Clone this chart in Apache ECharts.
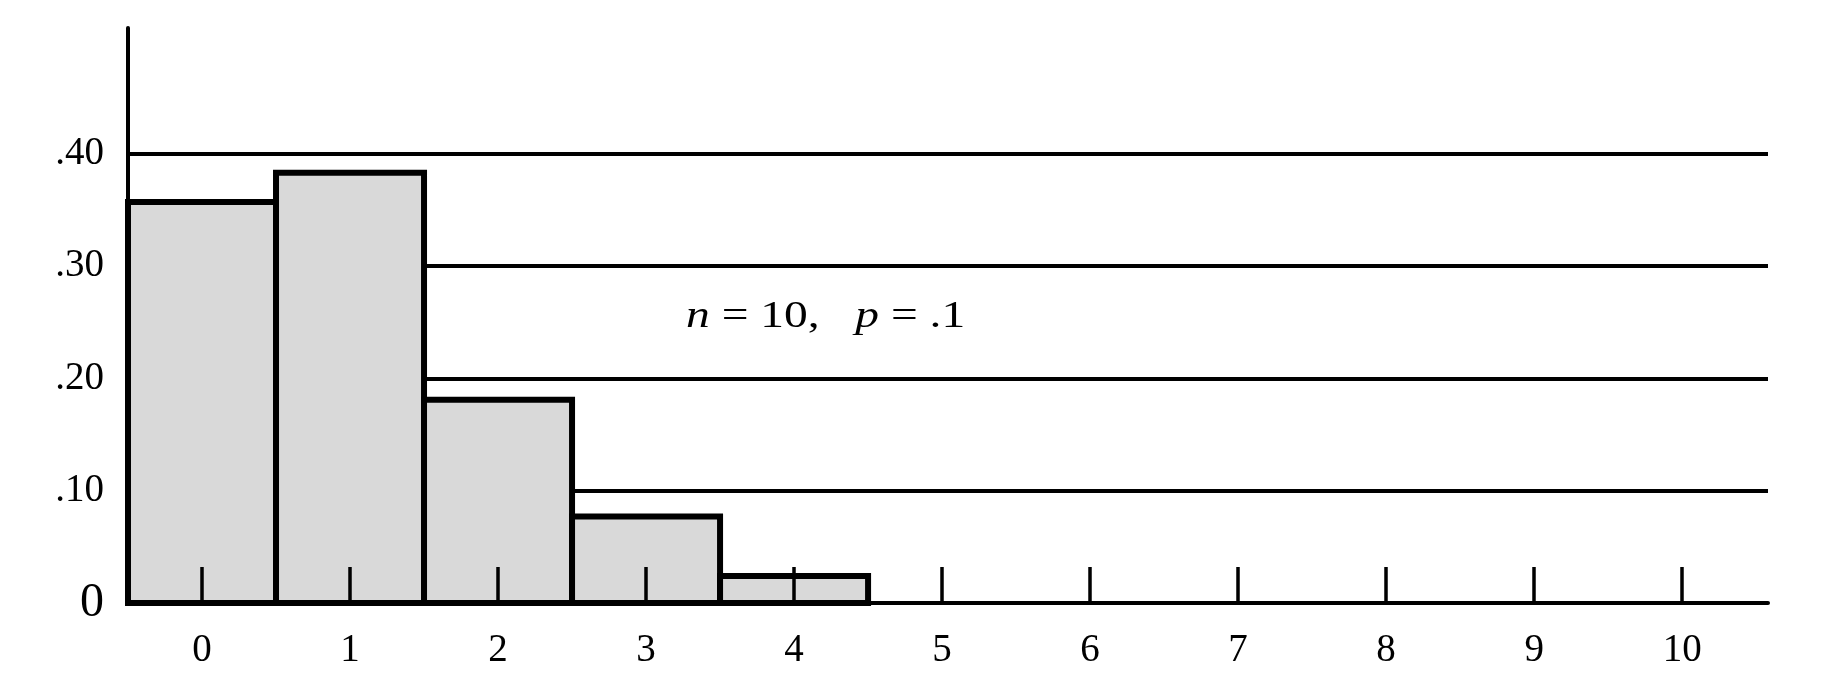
<!DOCTYPE html>
<html>
<head>
<meta charset="utf-8">
<script src="https://cdn.jsdelivr.net/npm/echarts@6/dist/echarts.min.js"></script>
<style>
  html, body { margin: 0; padding: 0; background: #fff; }
  #chart { width: 1842px; height: 696px; }
</style>
</head>
<body>
<div id="chart"></div>
<script>
// Number of successes k (x categories)
const categories = [0, 1, 2, 3, 4, 5, 6, 7, 8, 9, 10];
// Probability (k = 5..10 show no visible bar)
const probabilities = [0.357, 0.383, 0.181, 0.077, 0.024, 0, 0, 0, 0, 0, 0];
// Tick values and labels
const xTickValues = [0, 1, 2, 3, 4, 5, 6, 7, 8, 9, 10];
const xTickLabels = ['0', '1', '2', '3', '4', '5', '6', '7', '8', '9', '10'];
const yTickValues = [0, 0.1, 0.2, 0.3, 0.4];
const yTickLabels = ['0', '.10', '.20', '.30', '.40'];
const annotation = '{i|n} = 10,   {i|p} = .1';

const FONT = '"Liberation Serif", "Times New Roman", serif';

const chart = echarts.init(document.getElementById('chart'), null, { renderer: 'canvas' });

chart.setOption({
  backgroundColor: '#ffffff',
  animation: false,
  grid: { left: 128, right: 74, top: 28, bottom: 93, containLabel: false },
  xAxis: {
    type: 'value',
    min: -0.5,
    max: 10.58,
    z: 10,
    axisLine: { show: true, onZero: false, lineStyle: { color: '#000', width: 4 } },
    axisTick: {
      show: true, inside: true, length: 36,
      customValues: xTickValues,
      lineStyle: { color: '#000', width: 3.5 }
    },
    axisLabel: {
      show: true,
      customValues: xTickValues,
      margin: 28,
      color: '#000',
      fontFamily: FONT,
      fontSize: 39,
      formatter: function (v) { return xTickLabels[xTickValues.indexOf(Math.round(v))]; }
    },
    splitLine: { show: false }
  },
  yAxis: {
    type: 'value',
    min: 0,
    max: 0.512,
    axisLine: { show: true, onZero: false, lineStyle: { color: '#000', width: 4 } },
    axisTick: { show: false, customValues: yTickValues },
    axisLabel: {
      show: true,
      customValues: yTickValues,
      margin: 24,
      color: '#000',
      fontFamily: FONT,
      fontSize: 39,
      formatter: function (v) {
        const i = Math.round(v * 10);
        return i === 0 ? '{big|' + yTickLabels[0] + '}' : yTickLabels[i];
      },
      rich: { big: { fontFamily: FONT, fontSize: 48, color: '#000' } }
    },
    splitLine: { show: true, lineStyle: { color: '#000', width: 4 } }
  },
  series: [{
    type: 'custom',
    z: 2,
    data: probabilities.map(function (p, i) { return [categories[i], p]; }),
    encode: { x: 0, y: 1 },
    renderItem: function (params, api) {
      const k = api.value(0);
      const v = api.value(1);
      if (!v) return null;
      const topLeft = api.coord([k - 0.5, v]);
      const bottomRight = api.coord([k + 0.5, 0]);
      return {
        type: 'rect',
        shape: {
          x: topLeft[0], y: topLeft[1],
          width: bottomRight[0] - topLeft[0],
          height: bottomRight[1] - topLeft[1]
        },
        style: { fill: '#d9d9d9', stroke: '#000', lineWidth: 6 }
      };
    }
  }],
  graphic: [{
    type: 'text',
    x: 686,
    y: 298,
    scaleX: 1.25,
    z: 20,
    style: {
      text: annotation,
      fill: '#000',
      font: '38px ' + FONT,
      rich: {
        i: { fontFamily: FONT, fontStyle: 'italic', fontSize: 38, fill: '#000', color: '#000' }
      }
    }
  }]
});
</script>
</body>
</html>
